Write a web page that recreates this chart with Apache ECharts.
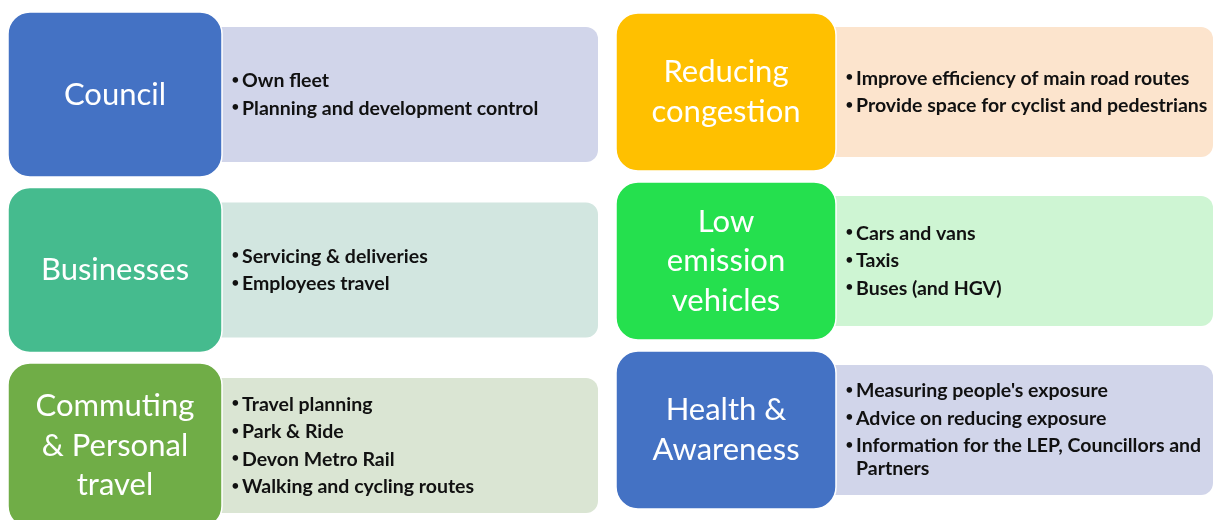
<!DOCTYPE html>
<html>
<head>
<meta charset="utf-8">
<script src="https://cdn.jsdelivr.net/npm/echarts@6/dist/echarts.min.js"></script>
<style>
  html, body { margin: 0; background: #fff; overflow: hidden; }
  #chart { width: 1213px; height: 520px; }
</style>
</head>
<body>
<div id="chart"></div>
<script>
// 左列：主题 / 要点 / 颜色
const leftTitles = ['Council', 'Businesses', 'Commuting\n& Personal\ntravel']
const leftItems = [
  ['Own fleet', 'Planning and development control'],
  ['Servicing & deliveries', 'Employees travel'],
  ['Travel planning', 'Park & Ride', 'Devon Metro Rail', 'Walking and cycling routes']
]
const leftBoxColors = ['#4472C4', '#45BB8E', '#70AD47']
const leftPanelColors = ['#D1D5EA', '#D2E6E0', '#DAE5D3']

// 右列
const rightTitles = ['Reducing\ncongestion', 'Low\nemission\nvehicles', 'Health &\nAwareness']
const rightItems = [
  ['Improve efficiency of main road routes', 'Provide space for cyclist and pedestrians'],
  ['Cars and vans', 'Taxis', 'Buses (and HGV)'],
  ["Measuring people's exposure", 'Advice on reducing exposure', 'Information for the LEP, Councillors and\nPartners']
]
const rightBoxColors = ['#FFC000', '#25E04E', '#4472C4']
const rightPanelColors = ['#FCE4CD', '#CEF5D3', '#D1D5EA']

const rowNames = ['row1', 'row2', 'row3']

const TITLE_FONT = 'Lato, "Open Sans", sans-serif'
const ITEM_FONT = 'Lato, "Open Sans", sans-serif'

/**
 * 生成某一列的 renderItem
 */
function makeRenderer(titles, items, boxColors, panelColors, cfg) {
  return function (params, api) {
    const row = api.value(1)
    const center = api.coord([0, row])
    const band = api.size([0, 1])[1]
    const right = api.coord([1, row])[0]
    const x0 = center[0]
    const top = center[1] - band / 2
    const boxW = cfg.boxW
    const boxH = cfg.boxH

    const pTop = top + cfg.inset
    const pH = boxH - cfg.inset * 2
    const pX = x0 + boxW
    const children = []

    // 右侧浅色面板
    children.push({
      type: 'rect',
      shape: { x: x0 + boxW - 12, y: pTop, width: right - (x0 + boxW - 12), height: pH, r: [0, 12, 12, 0] },
      style: { fill: panelColors[row] }
    })

    // 要点文字，整体垂直居中
    const list = items[row]
    const LINE = 27.5, WRAP = 23
    let total = 0
    list.forEach((t, i) => {
      total += (t.split('\n').length - 1) * WRAP
      if (i > 0) total += LINE
    })
    let y = pTop + pH / 2 - total / 2
    list.forEach((t) => {
      children.push({
        type: 'text',
        style: {
          text: '•', x: pX + 9, y: y - 1, fill: '#111',
          fontSize: 15, fontFamily: ITEM_FONT, align: 'left', verticalAlign: 'middle'
        }
      })
      children.push({
        type: 'text',
        style: {
          text: t, x: pX + 20, y: y - WRAP / 2, fill: '#111', lineHeight: WRAP,
          fontSize: 19.5, fontWeight: 'bold', fontFamily: ITEM_FONT, align: 'left', verticalAlign: 'top'
        }
      })
      y += (t.split('\n').length - 1) * WRAP + LINE
    })

    // 左侧彩色圆角方块
    children.push({
      type: 'rect',
      shape: { x: x0, y: top, width: boxW, height: boxH, r: 22 },
      style: { fill: boxColors[row], stroke: '#fff', lineWidth: 1.5 }
    })
    children.push({
      type: 'text',
      style: {
        text: titles[row], x: x0 + boxW / 2, y: top + boxH / 2, fill: '#fff',
        fontSize: 31, lineHeight: 39.5, fontFamily: TITLE_FONT,
        align: 'center', verticalAlign: 'middle'
      }
    })
    return { type: 'group', children }
  }
}

const chart = echarts.init(document.getElementById('chart'))
chart.setOption({
  animation: false,
  grid: [
    { left: 8, width: 590, top: 12, height: 526.5, outerBoundsMode: 'none' },
    { left: 616, width: 597, top: 13, height: 507, outerBoundsMode: 'none' }
  ],
  xAxis: [
    { type: 'value', gridIndex: 0, min: 0, max: 1, show: false },
    { type: 'value', gridIndex: 1, min: 0, max: 1, show: false }
  ],
  yAxis: [
    { type: 'category', gridIndex: 0, data: rowNames, inverse: true, show: false },
    { type: 'category', gridIndex: 1, data: rowNames, inverse: true, show: false }
  ],
  series: [
    {
      type: 'custom', xAxisIndex: 0, yAxisIndex: 0, clip: false,
      encode: { x: 0, y: 1 },
      data: leftTitles.map((t, i) => [0, i]),
      renderItem: makeRenderer(leftTitles, leftItems, leftBoxColors, leftPanelColors, { boxW: 214, boxH: 165, inset: 15 })
    },
    {
      type: 'custom', xAxisIndex: 1, yAxisIndex: 1, clip: false,
      encode: { x: 0, y: 1 },
      data: rightTitles.map((t, i) => [0, i]),
      renderItem: makeRenderer(rightTitles, rightItems, rightBoxColors, rightPanelColors, { boxW: 220, boxH: 158, inset: 14 })
    }
  ]
})
window.addEventListener('resize', () => chart.resize())
</script>
</body>
</html>
